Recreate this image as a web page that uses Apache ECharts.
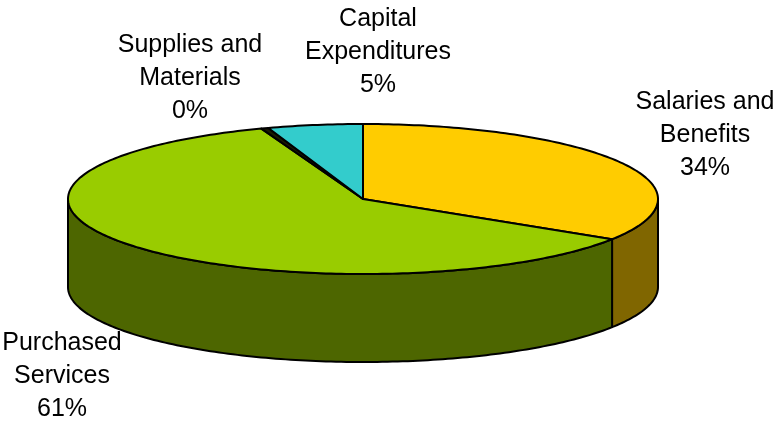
<!DOCTYPE html>
<html>
<head>
<meta charset="utf-8">
<script src="https://cdn.jsdelivr.net/npm/echarts@6/dist/echarts.min.js"></script>
<style>html,body{margin:0;padding:0;background:#fff}#c{width:780px;height:423px}</style>
</head>
<body>
<div id="c"></div>
<script>
// ---- data ----
const categories = ['Salaries and Benefits', 'Purchased Services', 'Supplies and Materials', 'Capital Expenditures'];
const labelNames = ['Salaries and\nBenefits', 'Purchased\nServices', 'Supplies and\nMaterials', 'Capital\nExpenditures'];
const values = [34.0, 60.4, 0.4, 5.2];
const pctLabels = ['34%', '61%', '0%', '5%'];

// ---- styles / layout ----
const topColors = ['#FFCC00', '#99CC00', '#1a1a00', '#33CCCC'];
const sideColors = ['#806600', '#4D6600', '#1a1a00', '#1a6666'];
const labelAnchors = [[705, 135], [62, 376], [190, 78], [378, 52]];
const depthPx = 88;

const total = values.reduce((a, b) => a + b, 0);
let acc = 0;
const seriesData = values.map(v => { const s = acc; acc += v; return [s, acc]; });

function renderItem(params, api) {
  const i = params.dataIndex;
  const a0 = api.value(0) / total * 360;
  const a1 = api.value(1) / total * 360;
  const pt = (deg, drop) => {
    const r = deg * Math.PI / 180;
    const p = api.coord([Math.sin(r), Math.cos(r)]);
    return [p[0], p[1] + drop];
  };
  const arc = (from, to, drop) => {
    const pts = [];
    const n = Math.max(2, Math.ceil(Math.abs(to - from)));
    for (let k = 0; k <= n; k++) pts.push(pt(from + (to - from) * k / n, drop));
    return pts;
  };
  const children = [];
  const lo = Math.max(a0, 90), hi = Math.min(a1, 270);
  if (lo < hi) {
    const pts = arc(lo, hi, 0).concat(arc(hi, lo, depthPx));
    children.push({
      type: 'polygon', shape: { points: pts },
      style: { fill: sideColors[i], stroke: '#000', lineWidth: 2, lineJoin: 'round' }
    });
  }
  const c = api.coord([0, 0]);
  const topPts = [c].concat(arc(a0, a1, 0));
  children.push({
    type: 'polygon', shape: { points: topPts },
    style: { fill: topColors[i], stroke: '#000', lineWidth: 2, lineJoin: 'round' }
  });
  children.push({
    type: 'text',
    style: {
      text: labelNames[i] + '\n' + pctLabels[i],
      x: labelAnchors[i][0], y: labelAnchors[i][1],
      align: 'center', verticalAlign: 'middle',
      fontFamily: 'Liberation Sans, Arial, sans-serif', fontSize: 25, lineHeight: 33,
      fill: '#000'
    }
  });
  return { type: 'group', children };
}

const chart = echarts.init(document.getElementById('c'), null, { renderer: 'canvas' });
chart.setOption({
  animation: false,
  grid: { left: 68, right: 122, top: 124, bottom: 149, containLabel: false },
  xAxis: { type: 'value', min: -1, max: 1, show: false },
  yAxis: { type: 'value', min: -1, max: 1, show: false },
  series: [{
    type: 'custom',
    name: 'Budget',
    coordinateSystem: 'cartesian2d',
    renderItem: renderItem,
    encode: { x: 0, y: 1 },
    clip: false,
    data: seriesData.map((d, i) => ({ name: categories[i], value: d }))
  }]
});
</script>
</body>
</html>
